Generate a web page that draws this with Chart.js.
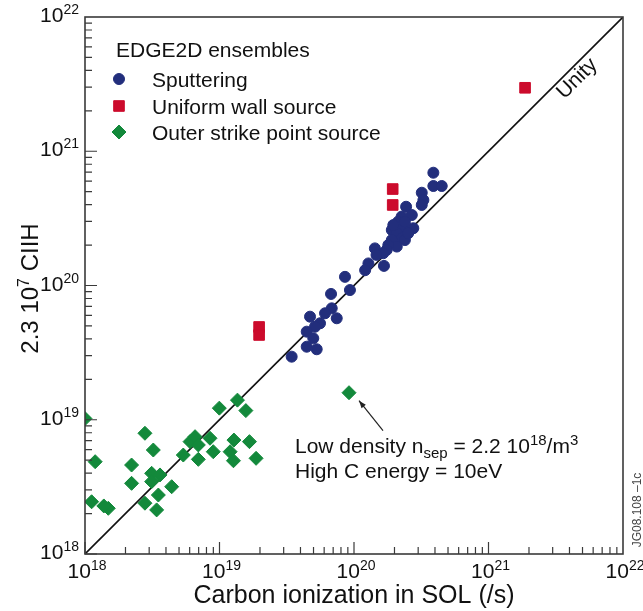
<!DOCTYPE html>
<html>
<head>
<meta charset="utf-8">
<script src="https://cdn.jsdelivr.net/npm/chart.js@4.4.0/dist/chart.umd.min.js"></script>
<style>
  html, body { margin: 0; padding: 0; background: #fff; }
</style>
</head>
<body>
<canvas id="ciiChart" width="643" height="611"></canvas>
<script>
// EDGE2D ensembles: CIII signal vs carbon ionization in the SOL (log-log)

const FONT = '"Liberation Sans", Arial, Helvetica, sans-serif';

// Sputtering (blue circles)
const sputX = [3.89e20, 3.89e20, 4.49e20, 3.19e20, 3.28e20, 3.19e20, 2.44e20, 2.69e20, 2.26e20, 2.13e20,
               2.76e20, 1.91e20, 2.33e20, 2.08e20, 2.26e20, 1.91e20, 2.39e20, 2.08e20, 1.80e20, 1.75e20,
               1.43e20, 1.65e20, 1.47e20, 1.28e20, 1.67e20, 1.21e20, 8.57e19, 9.33e19, 6.75e19, 6.83e19,
               6.09e19, 7.44e19, 4.71e19, 5.59e19, 5.13e19, 4.45e19, 4.98e19, 4.45e19, 5.28e19, 3.44e19,
               1.96e20, 2.53e20, 2.39e20];
const sputY = [6.92e20, 5.51e20, 5.51e20, 4.91e20, 4.33e20, 3.98e20, 3.86e20, 3.35e20, 3.26e20, 2.99e20,
               2.67e20, 2.59e20, 2.67e20, 2.45e20, 2.25e20, 2.18e20, 2.18e20, 1.95e20, 2.00e20, 1.84e20,
               1.89e20, 1.74e20, 1.69e20, 1.46e20, 1.40e20, 1.30e20, 1.16e20, 9.25e19, 8.65e19, 6.76e19,
               6.21e19, 5.70e19, 5.86e19, 5.23e19, 4.93e19, 4.53e19, 4.04e19, 3.50e19, 3.35e19, 2.95e19,
               2.82e20, 2.45e20, 2.99e20];

// Uniform wall source (red squares)
const wallX = [1.94e20, 1.94e20, 1.87e21, 1.97e19, 1.97e19];
const wallY = [5.23e20, 3.98e20, 2.97e21, 4.91e19, 4.28e19];

// Outer strike point source (green diamonds)
const strikeX = [1.0e18, 1.19e18, 1.12e18, 1.49e18, 1.38e18, 2.79e18, 3.22e18, 2.22e18, 2.22e18, 3.13e18,
                 3.61e18, 3.13e18, 3.51e18, 2.79e18, 3.41e18, 4.41e18, 5.38e18, 6.04e18, 6.58e18, 6.96e18,
                 6.96e18, 8.50e18, 8.99e18, 9.97e18, 1.36e19, 1.57e19, 1.28e19, 1.20e19, 1.27e19, 1.67e19,
                 1.87e19, 9.18e19];
const strikeY = [1.02e19, 4.87e18, 2.45e18, 2.19e18, 2.28e18, 7.93e18, 5.95e18, 4.60e18, 3.36e18, 3.99e18,
                 3.88e18, 3.46e18, 2.75e18, 2.39e18, 2.13e18, 3.17e18, 5.46e18, 6.87e18, 7.48e18, 6.49e18,
                 5.07e18, 7.28e18, 5.78e18, 1.22e19, 1.40e19, 1.17e19, 7.06e18, 5.78e18, 4.95e18, 6.87e18,
                 5.16e18, 1.59e19];

// Unity line
const unityVals = [1e18, 1e22];

// axis decades and labels
const tickVals = [1e18, 1e19, 1e20, 1e21, 1e22];
const tickExps = ['18', '19', '20', '21', '22'];

const seriesNames = ['Sputtering', 'Uniform wall source', 'Outer strike point source'];
const seriesColors = ['#222e7c', '#cc0b2c', '#13893b'];

function pts(xs, ys) {
    return xs.map((x, i) => ({ x: x, y: ys[i] }));
}

// draws a run of text pieces (normal / super / subscript) from one start point
function drawRich(ctx, parts, x, y, align) {
    let w = 0;
    parts.forEach(p => {
        ctx.font = p.size + 'px ' + FONT;
        p.w = ctx.measureText(p.t).width;
        w += p.w;
    });
    let cx = x;
    if (align === 'center') cx = x - w / 2;
    if (align === 'right') cx = x - w;
    ctx.textAlign = 'left';
    ctx.textBaseline = 'alphabetic';
    parts.forEach(p => {
        ctx.font = p.size + 'px ' + FONT;
        ctx.fillText(p.t, cx, y + (p.dy || 0));
        cx += p.w;
    });
}

const decorPlugin = {
    id: 'decor',
    afterDraw(chart) {
        const ctx = chart.ctx;
        const a = chart.chartArea;
        const xs = chart.scales.x, ys = chart.scales.y;
        ctx.save();

        // frame
        ctx.strokeStyle = '#3a3a3a';
        ctx.lineWidth = 1.6;
        ctx.strokeRect(a.left, a.top, a.right - a.left, a.bottom - a.top);

        // inward ticks on bottom and left axes
        ctx.lineWidth = 1.2;
        ctx.beginPath();
        for (let d = 18; d < 22; d++) {
            for (let m = 1; m <= 9; m++) {
                const v = m * Math.pow(10, d);
                const len = m === 1 ? 12 : 7;
                const px = xs.getPixelForValue(v);
                ctx.moveTo(px, a.bottom);
                ctx.lineTo(px, a.bottom - len);
                const py = ys.getPixelForValue(v);
                ctx.moveTo(a.left, py);
                ctx.lineTo(a.left + len, py);
            }
        }
        ctx.stroke();

        // tick labels
        ctx.fillStyle = '#111';
        tickVals.forEach((v, i) => {
            const px = xs.getPixelForValue(v);
            drawRich(ctx, [{ t: '10', size: 21 }, { t: tickExps[i], size: 14, dy: -8 }], px + 2, a.bottom + 24, 'center');
            const py = ys.getPixelForValue(v);
            drawRich(ctx, [{ t: '10', size: 21 }, { t: tickExps[i], size: 14, dy: -8 }], a.left - 6, py + 5, 'right');
        });

        // axis titles
        ctx.fillStyle = '#111';
        drawRich(ctx, [{ t: 'Carbon ionization in SOL (/s)', size: 25 }], (a.left + a.right) / 2, 603, 'center');
        ctx.save();
        ctx.translate(38, (a.top + a.bottom) / 2 + 3);
        ctx.rotate(-Math.PI / 2);
        drawRich(ctx, [{ t: '2.3 10', size: 24 }, { t: '7', size: 16, dy: -9 }, { t: ' CIIH', size: 24 }], 0, 0, 'center');
        ctx.restore();

        // legend
        drawRich(ctx, [{ t: 'EDGE2D ensembles', size: 21 }], 116, 57, 'left');
        const legY = [79, 106, 132];
        chart.data.datasets.slice(0, 3).forEach((ds, i) => {
            ctx.fillStyle = ds.backgroundColor;
            ctx.strokeStyle = ds.backgroundColor;
            ctx.lineWidth = 1;
            Chart.helpers.drawPoint(ctx, {
                pointStyle: ds.pointStyle, radius: ds.pointRadius, borderWidth: 1, rotation: 0
            }, 119, legY[i]);
            ctx.fillStyle = '#111';
            drawRich(ctx, [{ t: seriesNames[i], size: 21 }], 152, legY[i] + 8, 'left');
        });

        // "Unity" label along the diagonal
        const ux = xs.getPixelForValue(Math.pow(10, 21.6));
        const uy = ys.getPixelForValue(Math.pow(10, 21.6));
        ctx.save();
        ctx.translate(ux + 8, uy + 8);
        ctx.rotate(-Math.PI / 4);
        ctx.fillStyle = '#111';
        ctx.font = '21px ' + FONT;
        ctx.textAlign = 'center';
        ctx.textBaseline = 'middle';
        ctx.fillText('Unity', 0, 0);
        ctx.restore();

        // annotation for the low density case
        const sx = xs.getPixelForValue(strikeX[strikeX.length - 1]);
        const sy = ys.getPixelForValue(strikeY[strikeY.length - 1]);
        const tipX = sx + 10, tipY = sy + 8;
        const tailX = sx + 34, tailY = sy + 38;
        ctx.strokeStyle = '#222';
        ctx.fillStyle = '#222';
        ctx.lineWidth = 1.2;
        ctx.beginPath();
        ctx.moveTo(tailX, tailY);
        ctx.lineTo(tipX, tipY);
        ctx.stroke();
        const ang = Math.atan2(tipY - tailY, tipX - tailX);
        ctx.beginPath();
        ctx.moveTo(tipX, tipY);
        ctx.lineTo(tipX - 8 * Math.cos(ang - 0.35), tipY - 8 * Math.sin(ang - 0.35));
        ctx.lineTo(tipX - 8 * Math.cos(ang + 0.35), tipY - 8 * Math.sin(ang + 0.35));
        ctx.closePath();
        ctx.fill();

        ctx.fillStyle = '#111';
        drawRich(ctx, [
            { t: 'Low density n', size: 21 },
            { t: 'sep', size: 15, dy: 5 },
            { t: ' = 2.2 10', size: 21 },
            { t: '18', size: 15, dy: -8 },
            { t: '/m', size: 21 },
            { t: '3', size: 15, dy: -8 }
        ], 295, 453, 'left');
        drawRich(ctx, [{ t: 'High C energy = 10eV', size: 21 }], 295, 478, 'left');

        // figure reference
        ctx.save();
        ctx.translate(638, 510);
        ctx.rotate(-Math.PI / 2);
        ctx.fillStyle = '#444';
        ctx.font = '12px ' + FONT;
        ctx.textAlign = 'center';
        ctx.textBaseline = 'middle';
        ctx.fillText('JG08.108 \u20131c', 0, 0);
        ctx.restore();

        ctx.restore();
    }
};

new Chart(document.getElementById('ciiChart'), {
    type: 'scatter',
    data: {
        datasets: [
            {
                label: seriesNames[0],
                data: pts(sputX, sputY),
                pointStyle: 'circle',
                pointRadius: 5.5,
                backgroundColor: seriesColors[0],
                borderColor: seriesColors[0],
                borderWidth: 1,
                clip: 0,
                order: 3
            },
            {
                label: seriesNames[1],
                data: pts(wallX, wallY),
                pointStyle: 'rect',
                pointRadius: 7.5,
                backgroundColor: seriesColors[1],
                borderColor: seriesColors[1],
                borderWidth: 1,
                clip: 0,
                order: 1
            },
            {
                label: seriesNames[2],
                data: pts(strikeX, strikeY),
                pointStyle: 'rectRot',
                pointRadius: 7,
                backgroundColor: seriesColors[2],
                borderColor: seriesColors[2],
                borderWidth: 1,
                clip: 0,
                order: 2
            },
            {
                label: 'Unity',
                data: pts(unityVals, unityVals),
                showLine: true,
                pointRadius: 0,
                borderColor: '#111',
                borderWidth: 1.6,
                clip: 0,
                order: 10
            }
        ]
    },
    options: {
        responsive: false,
        animation: false,
        layout: {
            padding: { left: 85, top: 17, right: 20, bottom: 57 }
        },
        scales: {
            x: { type: 'logarithmic', min: 1e18, max: 1e22, display: false },
            y: { type: 'logarithmic', min: 1e18, max: 1e22, display: false }
        },
        plugins: {
            legend: { display: false },
            tooltip: { enabled: false }
        }
    },
    plugins: [decorPlugin]
});
</script>
</body>
</html>
